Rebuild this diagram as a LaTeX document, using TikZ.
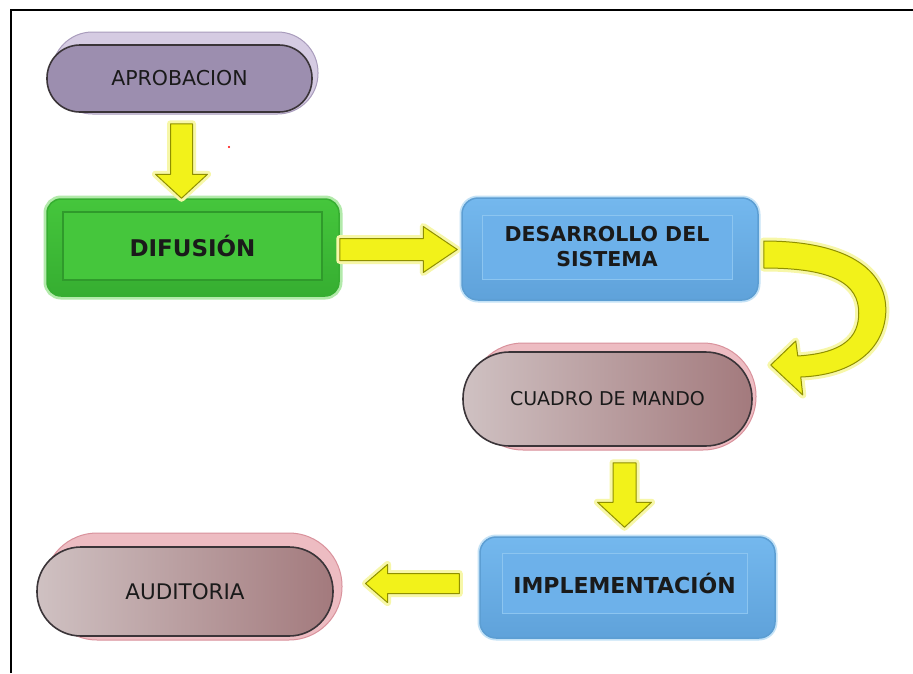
\documentclass[tikz,border=0pt]{standalone}
\usepackage{fontspec}
\setmainfont{DejaVu Sans}
\usetikzlibrary{calc}
\definecolor{lavfill}{HTML}{9C8EAF}
\definecolor{lavrim}{HTML}{D5CBE2}
\definecolor{lavrimedge}{HTML}{A99CBC}
\definecolor{darkedge}{HTML}{3A3438}
\definecolor{gbody}{HTML}{45C63C}
\definecolor{gedge}{HTML}{36AE31}
\definecolor{gglow}{HTML}{B2EAAA}
\definecolor{ginner}{HTML}{2F9A2B}
\definecolor{btop}{HTML}{74B8EE}
\definecolor{bbot}{HTML}{5FA2DA}
\definecolor{bbody}{HTML}{6DB1EA}
\definecolor{bedge}{HTML}{5C9ED3}
\definecolor{bglow}{HTML}{C4E2F6}
\definecolor{binner}{HTML}{8CC5F0}
\definecolor{roseL}{HTML}{CFC1C2}
\definecolor{roseR}{HTML}{A37A7D}
\definecolor{pinkrim}{HTML}{EDBCC2}
\definecolor{pinkrimedge}{HTML}{D9929C}
\definecolor{yfill}{HTML}{F2F21A}
\definecolor{yedge}{HTML}{8F8F00}
\definecolor{yglow}{HTML}{F7F7A8}
\definecolor{ink}{HTML}{1A1A1A}
\newcommand\stadfont{\fontsize{19}{23}\selectfont}
\newcommand\boxfont{\bfseries\fontsize{20.5}{25}\selectfont}
\newcommand\blockarrow[5]{%
  \path[barrow] let \p1=(#1), \p2=(#2), \n1={atan2(\y2-\y1,\x2-\x1)}, \n2={veclen(\x2-\x1,\y2-\y1)} in
  [shift={(\p1)}, rotate=\n1]
  (0,-#3) -- ({\n2-#5},-#3) -- ({\n2-#5},-#4) -- (\n2,0) -- ({\n2-#5},#4) -- ({\n2-#5},#3) -- (0,#3) -- cycle;}
\begin{document}
\begin{tikzpicture}[x=1pt,y=-1pt,
  every node/.style={inner sep=0pt, text=ink},
  barrow/.style={fill=yfill, draw=yedge, line width=1pt, line join=round,
    preaction={draw=yglow, line width=7pt, line join=round}},
  lavrimsty/.style={fill=lavrim, draw=lavrimedge, line width=1pt},
  lavsty/.style={fill=lavfill, draw=darkedge, line width=1.6pt, font=\stadfont},
  rosrimsty/.style={fill=pinkrim, draw=pinkrimedge, line width=1pt},
  rossty/.style={left color=roseL, right color=roseR, draw=darkedge, line width=1.6pt, font=\stadfont},
  greensty/.style={top color=gbody, bottom color=gedge, draw=gedge, line width=1.5pt,
    preaction={draw=gglow, line width=7pt}},
  greeninner/.style={fill=gbody, draw=ginner, line width=1.2pt, font=\boxfont},
  bluesty/.style={top color=btop, bottom color=bbot, draw=bedge, line width=1.5pt,
    preaction={draw=bglow, line width=5pt}},
  blueinner/.style={fill=bbody, draw=binner, line width=1pt, font=\boxfont, align=center}
]
\useasboundingbox (0,0) rectangle (913,673);
\fill[white] (0,0) rectangle (913,673);
\draw[line width=2pt] (11,673) -- (11,10) -- (913,10);

% APROBACION
\node[lavrimsty, minimum width=266pt, minimum height=82pt, rounded corners=40.5pt] (aprobrim) at (185,73) {};
\node[lavsty, minimum width=265pt, minimum height=67pt, rounded corners=33pt, font=\fontsize{20.5}{24}\selectfont] (aprob) at (179.5,78.5) {APROBACION};

% DIFUSION
\node[greensty, minimum width=292pt, minimum height=97pt, rounded corners=14pt] (difu) at (193,247.5) {};
\node[greeninner, minimum width=259pt, minimum height=68pt, font=\bfseries\fontsize{23}{27}\selectfont] (difuin) at (192.5,246) {DIFUSIÓN};

% DESARROLLO DEL SISTEMA
\node[bluesty, minimum width=296pt, minimum height=102pt, rounded corners=16pt] (desa) at (610,249) {};
\node[blueinner, minimum width=250pt, minimum height=64pt] (desain) at (607,247) {DESARROLLO DEL\\SISTEMA};

% CUADRO DE MANDO
\node[rosrimsty, minimum width=286pt, minimum height=107pt, rounded corners=53pt] (cuadrim) at (613,396.5) {};
\node[rossty, minimum width=289pt, minimum height=94pt, rounded corners=46.5pt] (cuad) at (607.5,399) {CUADRO DE MANDO};

% IMPLEMENTACION
\node[bluesty, minimum width=295pt, minimum height=101pt, rounded corners=16pt] (impl) at (627.5,587.5) {};
\node[blueinner, minimum width=245pt, minimum height=60pt, font=\bfseries\fontsize{22}{26}\selectfont] (implin) at (624.5,583) {IMPLEMENTACIÓN};

% AUDITORIA
\node[rosrimsty, minimum width=298pt, minimum height=107pt, rounded corners=53pt] (audirim) at (193,586.5) {};
\node[rossty, minimum width=296pt, minimum height=89pt, rounded corners=44pt, font=\fontsize{21.5}{25}\selectfont] (audi) at (185,591.5) {AUDITORIA};

% red dot
\node[circle, fill=red, minimum size=2.4pt] (dot) at (229,147) {};

% straight block arrows
\coordinate (a1s) at ([xshift=2pt,yshift=-11pt]aprob.south);
\coordinate (a1e) at (a1s |- difu.north);
\blockarrow{a1s}{a1e}{11}{26}{24}

\coordinate (a2s) at ([yshift=-2pt]difu.east);
\coordinate (a2e) at ([xshift=-4pt]a2s -| desa.west);
\blockarrow{a2s}{a2e}{11}{23}{34}

\coordinate (a3s) at ([xshift=17pt,yshift=-16pt]cuad.south);
\coordinate (a3e) at ([yshift=9pt]a3s |- impl.north);
\blockarrow{a3s}{a3e}{11.5}{27}{25}

\coordinate (a4s) at ([xshift=-20pt,yshift=4pt]impl.west);
\coordinate (a4e) at ([xshift=23pt]a4s -| audirim.east);
\blockarrow{a4s}{a4e}{10}{19}{22}

% curved arrow from DESARROLLO to CUADRO DE MANDO
\begin{scope}[shift={(desa.east)}]
\path[barrow] (5,-8) .. controls (95,-8) and (129,25) .. (127,64)
  .. controls (125,100) and (95,126) .. (42,128)
  -- (44,146) -- (12,116) -- (37,92) -- (39,107)
  .. controls (85,104) and (100,88) .. (100,64)
  .. controls (100,35) and (75,19) .. (5,19) -- cycle;
\end{scope}
\end{tikzpicture}
\end{document}
